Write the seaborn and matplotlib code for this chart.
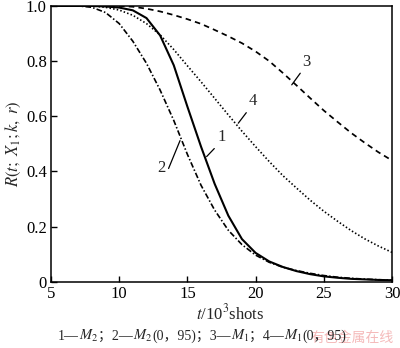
import numpy as np
import pandas as pd
import seaborn as sns
import matplotlib
matplotlib.use("Agg")
import matplotlib.pyplot as plt
from matplotlib.offsetbox import TextArea, HPacker, AnchoredOffsetbox

# Reliability R(t) versus service life t (10^3 shots)
t = list(range(5, 31))
r_m2 = [1.0, 1.0, 1.0, 1.0, 0.998, 0.994, 0.984, 0.956, 0.893, 0.785, 0.635, 0.49, 0.355,
        0.24, 0.155, 0.105, 0.074, 0.054, 0.039, 0.028, 0.02, 0.015, 0.011, 0.009, 0.007, 0.006]
r_m2_095 = [1.0, 1.0, 1.0, 0.995, 0.976, 0.936, 0.872, 0.792, 0.695, 0.585, 0.462, 0.35, 0.26,
            0.187, 0.135, 0.097, 0.071, 0.053, 0.041, 0.031, 0.023, 0.017, 0.013, 0.01, 0.008, 0.006]
r_m1 = [1.0, 1.0, 1.0, 1.0, 1.0, 1.0, 0.997, 0.99, 0.98, 0.967, 0.952, 0.935, 0.913,
        0.89, 0.865, 0.835, 0.8, 0.757, 0.712, 0.666, 0.621, 0.58, 0.54, 0.504, 0.47, 0.44]
r_m1_095 = [1.0, 1.0, 1.0, 1.0, 0.995, 0.985, 0.966, 0.936, 0.895, 0.842, 0.783, 0.725, 0.665,
            0.605, 0.546, 0.49, 0.436, 0.385, 0.34, 0.296, 0.256, 0.22, 0.186, 0.156, 0.13, 0.107]

x_ticks = [5, 10, 15, 20, 25, 30]
y_ticks = [0, 0.2, 0.4, 0.6, 0.8, 1.0]
y_tick_labels = ["0", "0.2", "0.4", "0.6", "0.8", "1.0"]

sns.set_style("ticks")
plt.rcParams["font.family"] = ["Liberation Serif", "Noto Sans CJK SC"]
plt.rcParams["mathtext.fontset"] = "stix"
plt.rcParams["xtick.direction"] = "in"
plt.rcParams["ytick.direction"] = "in"

fig = plt.figure(figsize=(4.0, 3.48), dpi=100)
ax = fig.add_axes([0.1275, 0.19, 0.8525, 0.793])

df = pd.DataFrame({"t": t, "m2": r_m2, "m2_095": r_m2_095, "m1": r_m1, "m1_095": r_m1_095})

sns.lineplot(data=df, x="t", y="m1", ax=ax, color="black", lw=1.25,
             linestyle=(0, (3.2, 2.4)))
sns.lineplot(data=df, x="t", y="m1_095", ax=ax, color="black", lw=1.2,
             linestyle=(0, (0.9, 1.3)))
sns.lineplot(data=df, x="t", y="m2_095", ax=ax, color="black", lw=1.2,
             linestyle=(0, (3.4, 1.3, 0.9, 1.3)))
sns.lineplot(data=df, x="t", y="m2", ax=ax, color="black", lw=1.5)

ax.set_xlim(5, 30)
ax.set_ylim(0, 1.0)
ax.set_xticks(x_ticks)
ax.set_yticks(y_ticks)
ax.set_yticklabels(y_tick_labels)
ax.tick_params(axis="both", labelsize=12, length=4, width=1.0, colors="black", pad=3)
for s in ax.spines.values():
    s.set_linewidth(1.1)
    s.set_color("black")

ax.set_xlabel("")
ax.set_ylabel(r"$R(t;\ X_1;k,\ r)$", fontsize=12, labelpad=2)

# curve labels with leader lines
curve_labels = [
    ("3", (22.65, 0.714), (23.45, 0.768)),
    ("4", (18.73, 0.575), (19.5, 0.625)),
    ("1", (16.41, 0.454), (17.2, 0.495)),
    ("2", (14.46, 0.512), (13.38, 0.44)),
]
for txt, xy, xyt in curve_labels:
    ha = "right" if txt == "2" else "left"
    va = "top" if txt == "2" else "bottom"
    ax.annotate(txt, xy=xy, xytext=xyt, fontsize=12, ha=ha, va=va,
                arrowprops=dict(arrowstyle="-", lw=0.9, color="black",
                                shrinkA=0, shrinkB=0, relpos=(1, 0) if txt == "2" else (0, 0)))

fig.text(0.575, 0.10, r"$t$/10$^3$shots", fontsize=12, ha="center", va="center")

# caption line
serif = dict(fontsize=10, family=["Liberation Serif", "Noto Sans CJK SC"])
math = dict(fontsize=10.5)
pieces = [("1—", serif), (r"$M_2$", math), ("；2—", serif), (r"$M_2$", math),
          ("(0，95)；3—", serif), (r"$M_1$", math), ("；4—", serif), (r"$M_1$", math),
          ("(0，95)", serif)]
boxes = [TextArea(s, textprops=p) for s, p in pieces]
pack = HPacker(children=boxes, align="baseline", pad=0, sep=0)
anc = AnchoredOffsetbox(loc="center", child=pack, frameon=False,
                        bbox_to_anchor=(0.505, 0.035), bbox_transform=fig.transFigure,
                        borderpad=0, pad=0)
fig.add_artist(anc)

fig.text(0.985, 0.03, "有色金属在线", fontsize=10, color="#f2a9a9", alpha=0.8,
         ha="right", va="center", family=["Noto Sans CJK SC"])

fig.savefig("out.png", dpi=100)
